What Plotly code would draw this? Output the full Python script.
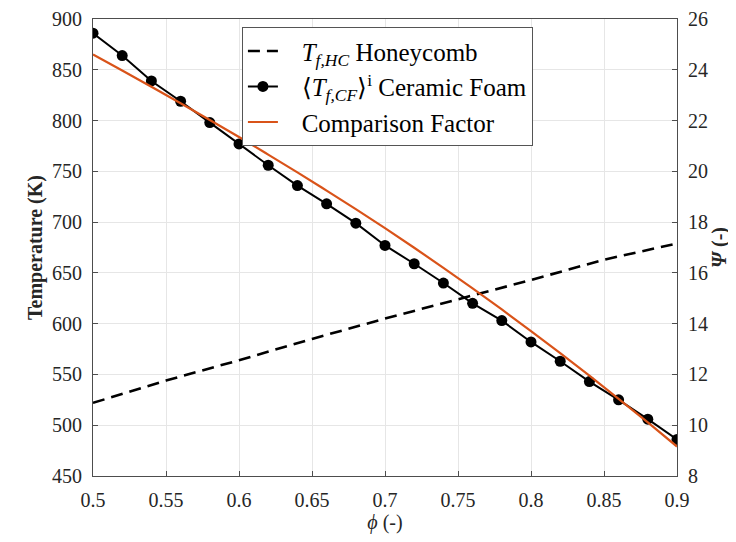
import plotly.graph_objects as go

phi_cf = [0.50, 0.52, 0.54, 0.56, 0.58, 0.60, 0.62, 0.64, 0.66, 0.68, 0.70,
          0.72, 0.74, 0.76, 0.78, 0.80, 0.82, 0.84, 0.86, 0.88, 0.90]
T_cf = [886, 864, 839, 819, 798, 777, 756, 736, 718, 699, 677,
        659, 640, 620, 603, 582, 563, 543, 525, 506, 486]

phi_hc = [0.50, 0.55, 0.60, 0.65, 0.70, 0.75, 0.80, 0.85, 0.90]
T_hc = [522, 544, 564, 585, 605, 624, 643, 663, 679]

phi_psi = phi_cf
psi = [24.60, 23.97, 23.33, 22.68, 22.02, 21.35, 20.66, 19.96, 19.24, 18.51, 17.76,
       16.99, 16.20, 15.39, 14.56, 13.71, 12.84, 11.95, 11.04, 10.11, 9.16]

x_ticks = [0.5, 0.55, 0.6, 0.65, 0.7, 0.75, 0.8, 0.85, 0.9]
x_ticktext = ["0.5", "0.55", "0.6", "0.65", "0.7", "0.75", "0.8", "0.85", "0.9"]
y_left_ticks = [450, 500, 550, 600, 650, 700, 750, 800, 850, 900]
y_right_ticks = [8, 10, 12, 14, 16, 18, 20, 22, 24, 26]

FONT = "Liberation Serif, Times New Roman, serif"
AX = "#4d4d4d"
GRID = "#e6e6e6"
TXT = "#262626"
PAD = "\u00a0\u00a0\u00a0"

fig = go.Figure()
fig.add_trace(go.Scatter(
    x=phi_hc, y=T_hc, mode="lines", legendgroup="a",
    line=dict(color="black", width=2.6, dash="12px,7px"),
    name=PAD + "<i>T</i><sub><i>f,HC</i></sub> Honeycomb", yaxis="y"))
fig.add_trace(go.Scatter(
    x=phi_cf, y=T_cf, mode="lines+markers", legendgroup="b",
    line=dict(color="black", width=2),
    marker=dict(color="black", size=11, symbol="circle"),
    name=PAD + "⟨<i>T</i><sub><i>f,CF</i></sub>⟩<sup>i</sup> Ceramic Foam", yaxis="y"))
fig.add_trace(go.Scatter(
    x=phi_psi, y=psi, mode="lines", legendgroup="c",
    line=dict(color="#D95319", width=2.2, shape="spline"),
    name=PAD + "Comparison Factor", yaxis="y2"))

fig.update_layout(
    width=736, height=542,
    margin=dict(l=85, r=67, t=11, b=74),
    paper_bgcolor="white", plot_bgcolor="white",
    font=dict(family=FONT, size=20, color=TXT),
    showlegend=True,
    legend=dict(x=0.255, y=0.982, xanchor="left", yanchor="top",
                bgcolor="white", bordercolor="#555555", borderwidth=1,
                font=dict(family=FONT, size=25, color="black"),
                tracegroupgap=0, traceorder="normal"),
    xaxis=dict(range=[0.5, 0.9], tickvals=x_ticks, ticktext=x_ticktext,
               showgrid=True, gridcolor=GRID, gridwidth=1, automargin=False,
               showline=True, linecolor=AX, linewidth=1, mirror=True,
               ticks="inside", ticklen=5, tickcolor=AX, zeroline=False,
               ticklabelstandoff=6,
               tickfont=dict(family=FONT, size=20, color=TXT),
               title=dict(text="<i>ϕ</i> (-)", standoff=2,
                          font=dict(family=FONT, size=20, color=TXT))),
    yaxis=dict(range=[450, 900], tickvals=y_left_ticks,
               showgrid=True, gridcolor=GRID, gridwidth=1, automargin=False,
               showline=True, linecolor=AX, linewidth=1,
               ticks="inside", ticklen=5, tickcolor=AX, zeroline=False,
               ticklabelstandoff=6,
               tickfont=dict(family=FONT, size=20, color=TXT),
               title=dict(text="<b>Temperature (K)</b>", standoff=4,
                          font=dict(family=FONT, size=20, color=TXT))),
    yaxis2=dict(range=[8, 26], tickvals=y_right_ticks, overlaying="y", side="right",
                showgrid=False, showline=True, linecolor=AX, linewidth=1,
                automargin=False,
                ticks="inside", ticklen=5, tickcolor=AX, zeroline=False,
                ticklabelstandoff=6,
                tickfont=dict(family=FONT, size=20, color=TXT),
                title=dict(text="<b><i>Ψ</i> (-)</b>", standoff=4,
                           font=dict(family=FONT, size=20, color=TXT))),
)

fig.write_html("out.html")
